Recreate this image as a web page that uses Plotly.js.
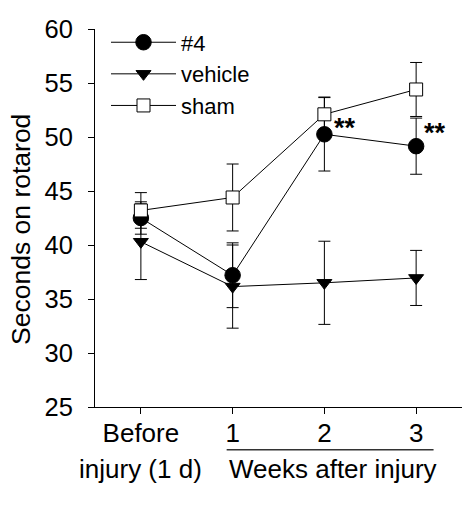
<!DOCTYPE html>
<html>
<head>
<meta charset="utf-8">
<script src="https://cdn.plot.ly/plotly-3.0.1.min.js"></script>
<style>html,body{margin:0;padding:0;background:#fff;}#chart{width:475px;height:505px;}</style>
</head>
<body>
<div id="chart"></div>
<script>
// ---- data ----
const xIndex = [0, 1, 2, 3];
const xTickLabels = ["Before", "1", "2", "3"];
const yTickValues = [25, 30, 35, 40, 45, 50, 55, 60];

const compound4Mean = [42.5, 37.2, 50.25, 49.15];
const compound4Err  = [1.5, 3.0, 3.4, 2.6];
const vehicleMean   = [40.3, 36.15, 36.5, 36.95];
const vehicleErr    = [3.5, 3.85, 3.85, 2.55];
const shamMean      = [43.2, 44.4, 52.1, 54.4];
const shamErr       = [1.65, 3.1, 1.6, 2.5];

const seriesNames = ["#4", "vehicle", "sham"];
const yTitle = "Seconds on rotarod";
const beforeSecondLine = "injury (1 d)";
const weeksLabel = "Weeks after injury";
const sigMarks = ["", "", "**", "**"];

// ---- styling ----
const FONT = "Liberation Sans, Arial, Helvetica, sans-serif";
const sigXShift = [0, 0, 8, 6];
const sigYShift = [0, 0, 6, 13];

function errObj(arr) {
  return {type: 'data', array: arr, visible: true, color: '#000', thickness: 1, width: 6};
}

const traces = [
  {
    x: xIndex, y: vehicleMean, name: seriesNames[1], type: 'scatter', mode: 'lines+markers',
    line: {color: '#000', width: 1},
    marker: {symbol: 'triangle-down', size: 13, color: '#000', line: {color: '#000', width: 1}},
    error_y: errObj(vehicleErr), legendrank: 2
  },
  {
    x: xIndex, y: compound4Mean, name: seriesNames[0], type: 'scatter', mode: 'lines+markers',
    line: {color: '#000', width: 1},
    marker: {symbol: 'circle', size: 15.5, color: '#000', line: {color: '#000', width: 1}},
    error_y: errObj(compound4Err), legendrank: 1
  },
  {
    x: xIndex, y: shamMean, name: seriesNames[2], type: 'scatter', mode: 'lines+markers',
    line: {color: '#000', width: 1},
    marker: {symbol: 'square', size: 13, color: '#fff', line: {color: '#000', width: 1}},
    error_y: errObj(shamErr), legendrank: 3
  }
];

const annotations = [];
sigMarks.forEach(function (m, i) {
  if (!m) return;
  annotations.push({
    x: xIndex[i], y: compound4Mean[i], xref: 'x', yref: 'y', text: '<b>' + m + '</b>',
    showarrow: false, xanchor: 'left', yanchor: 'middle', xshift: sigXShift[i], yshift: sigYShift[i],
    font: {family: FONT, size: 27, color: '#000'}
  });
});
annotations.push({
  x: -0.2, y: 0.47, xref: 'paper', yref: 'paper', text: yTitle, textangle: -90,
  showarrow: false, xanchor: 'center', yanchor: 'middle',
  font: {family: FONT, size: 26.5, color: '#000'}
});
annotations.push({
  x: xIndex[0], y: -0.163, xref: 'x', yref: 'paper', text: beforeSecondLine,
  showarrow: false, xanchor: 'center', yanchor: 'middle',
  font: {family: FONT, size: 26, color: '#000'}
});
annotations.push({
  x: (xIndex[1] + xIndex[3]) / 2 + 0.09, y: -0.163, xref: 'x', yref: 'paper', text: weeksLabel,
  showarrow: false, xanchor: 'center', yanchor: 'middle',
  font: {family: FONT, size: 26, color: '#000'}
});

const layout = {
  width: 475, height: 505,
  margin: {l: 95, r: 13, t: 29, b: 98, pad: 0},
  paper_bgcolor: '#fff', plot_bgcolor: '#fff',
  font: {family: FONT, size: 25.5, color: '#000'},
  showlegend: true,
  legend: {
    x: 0.03, y: 1.02, xanchor: 'left', yanchor: 'top',
    bgcolor: 'rgba(0,0,0,0)', borderwidth: 0, itemwidth: 65,
    font: {family: FONT, size: 22, color: '#000'}
  },
  xaxis: {
    range: [-0.5, 3.5], tickmode: 'array', tickvals: xIndex, ticktext: xTickLabels,
    showline: true, linecolor: '#000', linewidth: 1, mirror: false,
    ticks: 'outside', ticklen: 6, tickwidth: 1, tickcolor: '#000',
    ticklabelstandoff: -3,
    tickfont: {family: FONT, size: 26, color: '#000'},
    showgrid: false, zeroline: false, fixedrange: true
  },
  yaxis: {
    range: [25, 60], tickmode: 'array', tickvals: yTickValues,
    showline: true, linecolor: '#000', linewidth: 1,
    ticks: 'outside', ticklen: 6, tickwidth: 1, tickcolor: '#000',
    ticklabelstandoff: 10,
    tickfont: {family: FONT, size: 25.5, color: '#000'},
    showgrid: false, zeroline: false, fixedrange: true
  },
  shapes: [{
    type: 'line', xref: 'x', yref: 'paper',
    x0: xIndex[1] - 0.065, x1: xIndex[3] + 0.19, y0: -0.113, y1: -0.113,
    line: {color: '#333', width: 1.5}
  }],
  annotations: annotations
};

Plotly.newPlot('chart', traces, layout, {displayModeBar: false, staticPlot: true});
</script>
</body>
</html>
